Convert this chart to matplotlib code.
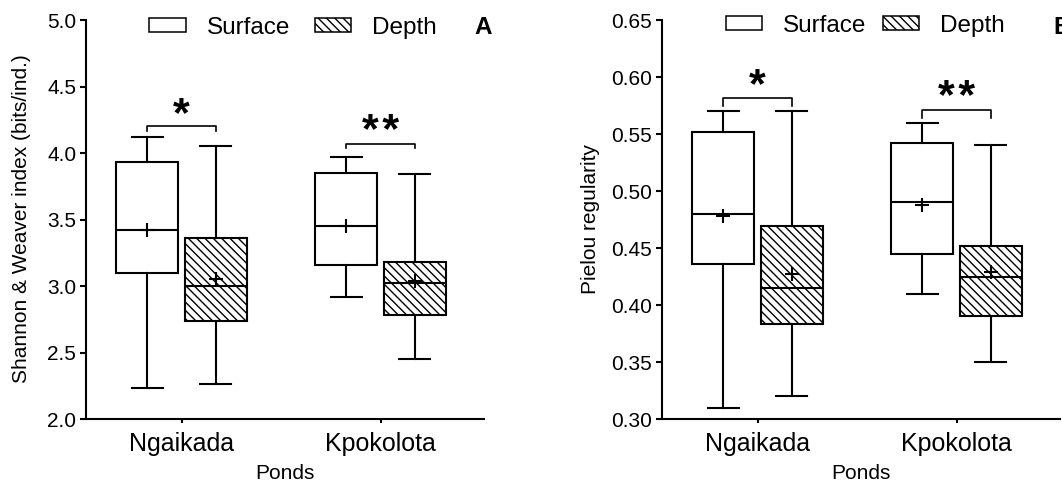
import matplotlib
matplotlib.use("Agg")
import matplotlib.pyplot as plt
from matplotlib.patches import Patch
from matplotlib import font_manager

# values
ponds = ["Ngaikada", "Kpokolota"]

shannon_surface_lo = [2.23, 2.92]
shannon_surface_q1 = [3.10, 3.16]
shannon_surface_med = [3.42, 3.45]
shannon_surface_q3 = [3.93, 3.85]
shannon_surface_hi = [4.12, 3.97]
shannon_surface_mean = [3.42, 3.45]

shannon_depth_lo = [2.26, 2.45]
shannon_depth_q1 = [2.74, 2.78]
shannon_depth_med = [3.00, 3.02]
shannon_depth_q3 = [3.36, 3.18]
shannon_depth_hi = [4.05, 3.84]
shannon_depth_mean = [3.05, 3.04]

pielou_surface_lo = [0.31, 0.41]
pielou_surface_q1 = [0.436, 0.445]
pielou_surface_med = [0.480, 0.490]
pielou_surface_q3 = [0.552, 0.542]
pielou_surface_hi = [0.57, 0.56]
pielou_surface_mean = [0.478, 0.488]

pielou_depth_lo = [0.32, 0.35]
pielou_depth_q1 = [0.383, 0.390]
pielou_depth_med = [0.415, 0.425]
pielou_depth_q3 = [0.469, 0.452]
pielou_depth_hi = [0.57, 0.54]
pielou_depth_mean = [0.427, 0.429]

signif_labels = ["*", "*\u200a*"]
shannon_bracket_y = [4.20, 4.07]
pielou_bracket_y = [0.582, 0.571]

plt.rcParams["font.family"] = ["Liberation Sans", "DejaVu Sans"]
plt.rcParams["hatch.linewidth"] = 1.0

names = {f.name for f in font_manager.fontManager.ttflist}
if "Liberation Sans Narrow" in names:
    label_font = dict(family=["Liberation Sans Narrow", "Liberation Sans"], fontsize=18)
else:
    label_font = dict(family=["Liberation Sans"], fontsize=15)

HATCH = "\\\\\\\\"


def make_stats(lo, q1, med, q3, hi, mean):
    stats = []
    for i in range(len(lo)):
        stats.append(dict(whislo=lo[i], q1=q1[i], med=med[i], q3=q3[i],
                          whishi=hi[i], mean=mean[i], fliers=[]))
    return stats


def draw_panel(ax, surface, depth, bracket_y, tick_drop, ylim, yticks, fmt):
    pos = list(range(len(ponds)))
    off = 0.172
    w = 0.31
    common = dict(widths=w, patch_artist=True, showmeans=True, showfliers=False,
                  manage_ticks=False,
                  whiskerprops=dict(color="black", linewidth=1.5),
                  capprops=dict(color="black", linewidth=1.5),
                  medianprops=dict(color="black", linewidth=1.5),
                  meanprops=dict(marker="+", markersize=10, markeredgewidth=1.5,
                                 markeredgecolor="black"))
    ax.bxp(surface, positions=[p - off for p in pos],
           boxprops=dict(facecolor="white", edgecolor="black", linewidth=1.5),
           **common)
    ax.bxp(depth, positions=[p + off for p in pos],
           boxprops=dict(facecolor="white", edgecolor="black", linewidth=1.5,
                         hatch=HATCH),
           **common)

    # significance brackets
    for i, y in enumerate(bracket_y):
        x0, x1 = pos[i] - off, pos[i] + off
        ax.plot([x0, x0, x1, x1], [y - tick_drop, y, y, y - tick_drop],
                color="black", linewidth=1.2)
        ax.annotate(signif_labels[i], xy=(pos[i], y), xytext=(0, 0.5),
                    textcoords="offset points", ha="center", va="baseline",
                    fontsize=31, fontweight="bold")

    ax.set_xlim(-0.48, 1.52)
    ax.set_ylim(*ylim)
    ax.set_yticks(yticks)
    ax.set_yticklabels([fmt.format(t) for t in yticks], fontsize=15)
    ax.set_xticks(pos)
    ax.set_xticklabels(ponds, fontsize=18)
    ax.tick_params(axis="y", length=4, width=1.5, pad=3)
    ax.tick_params(axis="x", length=3, width=1.5, pad=6)
    for s in ["top", "right"]:
        ax.spines[s].set_visible(False)
    for s in ["left", "bottom"]:
        ax.spines[s].set_linewidth(1.5)
    ax.set_xlabel("Ponds", labelpad=6, **label_font)


fig = plt.figure(figsize=(10.62, 4.90), dpi=100)
W, H = 1062, 490
axA = fig.add_axes([86 / W, 1 - 419 / H, 398 / W, 399 / H])
axB = fig.add_axes([662 / W, 1 - 419 / H, 398 / W, 399 / H])

draw_panel(axA,
           make_stats(shannon_surface_lo, shannon_surface_q1, shannon_surface_med,
                      shannon_surface_q3, shannon_surface_hi, shannon_surface_mean),
           make_stats(shannon_depth_lo, shannon_depth_q1, shannon_depth_med,
                      shannon_depth_q3, shannon_depth_hi, shannon_depth_mean),
           shannon_bracket_y, 0.035, (2.0, 5.0),
           [2.0, 2.5, 3.0, 3.5, 4.0, 4.5, 5.0], "{:.1f}")
draw_panel(axB,
           make_stats(pielou_surface_lo, pielou_surface_q1, pielou_surface_med,
                      pielou_surface_q3, pielou_surface_hi, pielou_surface_mean),
           make_stats(pielou_depth_lo, pielou_depth_q1, pielou_depth_med,
                      pielou_depth_q3, pielou_depth_hi, pielou_depth_mean),
           pielou_bracket_y, 0.007, (0.30, 0.65),
           [0.30, 0.35, 0.40, 0.45, 0.50, 0.55, 0.60, 0.65], "{:.2f}")

fig.text(22 / W, 1 - 219 / H, "Shannon & Weaver index (bits/ind.)", rotation=90,
         ha="center", va="center", **label_font)
fig.text(590 / W, 1 - 219 / H, "Pielou regularity", rotation=90,
         ha="center", va="center", **label_font)

handles = [Patch(facecolor="white", edgecolor="black", linewidth=1.1, label="Surface"),
           Patch(facecolor="white", edgecolor="black", linewidth=1.1, hatch=HATCH,
                 label="Depth")]
axA.legend(handles=handles, ncol=2, frameon=False, fontsize=17.5,
           loc="center left", bbox_to_anchor=(149 / W, 1 - 28 / H),
           bbox_transform=fig.transFigure, borderpad=0, borderaxespad=0,
           handlelength=1.52, handleheight=0.5, handletextpad=0.86,
           columnspacing=1.0)
axB.legend(handles=handles, ncol=2, frameon=False, fontsize=17.5,
           loc="center left", bbox_to_anchor=(726 / W, 1 - 26 / H),
           bbox_transform=fig.transFigure, borderpad=0, borderaxespad=0,
           handlelength=1.48, handleheight=0.5, handletextpad=0.86,
           columnspacing=0.7)

fig.text(474 / W, 1 - 28 / H, "A", fontsize=17.5, fontweight="bold",
         ha="left", va="center")
fig.text(1053 / W, 1 - 28 / H, "B", fontsize=17.5, fontweight="bold",
         ha="left", va="center")

fig.savefig("out.png", dpi=100)
